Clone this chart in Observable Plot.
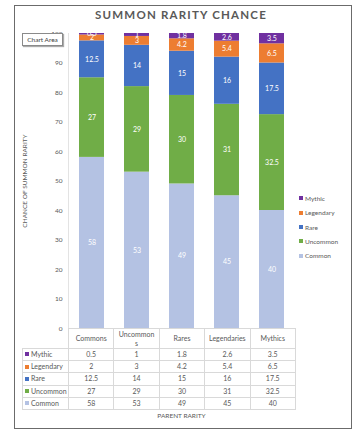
<!DOCTYPE html>
<html><head><meta charset="utf-8">
<script src="https://cdn.jsdelivr.net/npm/d3@7"></script>
<script src="https://cdn.jsdelivr.net/npm/@observablehq/plot@0.6"></script>
<style>
body{margin:0;background:#fff;font-family:Lato,"Open Sans",sans-serif;}
#wrap{position:relative;width:362px;height:436px;overflow:hidden;background:#fff;}
#frame{position:absolute;left:14px;top:5px;width:336px;height:422px;border:1px solid #6b6b6b;box-sizing:content-box;}
#title{position:absolute;left:0;width:362px;top:8px;text-align:center;font-weight:bold;font-size:11.5px;letter-spacing:1.2px;color:#595959;}
#tip{position:absolute;left:22px;top:33px;width:39px;height:11px;border:1px solid #8a8a8a;background:#fff;font-size:6.5px;line-height:11px;text-align:center;color:#404040;box-shadow:1px 1px 1px #aaa;z-index:5;}
#chart{position:absolute;left:0;top:0;}
#tbl{position:absolute;border-collapse:collapse;table-layout:fixed;font-size:7px;color:#595959;}
#tbl td{border:1px solid #d9d9d9;padding:0;text-align:center;height:11.2px;line-height:9px;}
#tbl tr.head td{height:19px;}
#tbl td.lab{text-align:left;padding-left:2px;white-space:nowrap;}
#tbl .hd{margin:0 auto;overflow-wrap:anywhere;}
.sw{display:inline-block;width:4px;height:4px;margin-right:2px;vertical-align:middle;position:relative;top:-1px;}
#legend{position:absolute;left:299px;top:194px;font-size:6.5px;color:#595959;}
#legend div{height:14.3px;line-height:10px;}
#xlab{position:absolute;top:412px;left:0;font-size:6.5px;color:#595959;text-align:center;}
#axline{position:absolute;width:1px;background:#e3e3e3;}
</style></head>
<body><div id="wrap">
<div id="frame"></div>
<div id="title">SUMMON RARITY CHANCE</div>
<div id="tip">Chart Area</div>
<div id="chart"></div>
<div id="axline"></div>
<table id="tbl"></table>
<div id="legend"></div>
<div id="xlab">PARENT RARITY</div>
</div>
<script>
const parents = ["Commons", "Uncommons", "Rares", "Legendaries", "Mythics"];
const rarities = ["Common", "Uncommon", "Rare", "Legendary", "Mythic"];
const common = [58, 53, 49, 45, 40];
const uncommon = [27, 29, 30, 31, 32.5];
const rare = [12.5, 14, 15, 16, 17.5];
const legendary = [2, 3, 4.2, 5.4, 6.5];
const mythic = [0.5, 1, 1.8, 2.6, 3.5];
const colors = ["#b4c2e3", "#70ad47", "#4472c4", "#ed7d31", "#7030a0"];
const yTicks = [0, 10, 20, 30, 40, 50, 60, 70, 80, 90, 100];
const yTitle = "CHANCE OF SUMMON RARITY";
const xTitle = "PARENT RARITY";

const series = [common, uncommon, rare, legendary, mythic];
const rows = [];
rarities.forEach((r, i) => parents.forEach((p, j) => rows.push({parent: p, rarity: r, value: series[i][j]})));

const plot = Plot.plot({
  width: 362, height: 340,
  marginLeft: 68, marginRight: 67, marginTop: 33, marginBottom: 12,
  style: {fontFamily: "Lato, 'Open Sans', sans-serif", fontSize: "7px", color: "#595959", background: "transparent", overflow: "visible"},
  x: {domain: parents, paddingInner: 0.45, paddingOuter: 0.225, axis: null},
  y: {domain: [0, 100]},
  color: {domain: rarities, range: colors},
  marks: [
    Plot.axisY({ticks: yTicks, tickSize: 0, tickPadding: 6, label: yTitle, labelAnchor: "center", labelOffset: 46, labelArrow: "none", fill: "#595959", fontSize: 6.5}),
    Plot.barY(rows, Plot.stackY({x: "parent", y: "value", fill: "rarity", order: rarities})),
    Plot.text(rows, Plot.stackY({x: "parent", y: "value", z: "rarity", text: d => d.value, order: rarities, fill: "white", fontSize: 7})),
    Plot.ruleY([0], {stroke: "#d9d9d9"})
  ]
});
document.getElementById("chart").appendChild(plot);

const xs = plot.scale("x"), ys = plot.scale("y");
const x0 = xs.range[0], x1 = xs.range[1], step = (x1 - x0) / parents.length;
const yTop = ys.apply(100), yBot = ys.apply(0);

const ax = document.getElementById("axline");
ax.style.left = x0 + "px"; ax.style.top = yTop + "px"; ax.style.height = (yBot - yTop) + "px";

// header text wrap width, as in the reference (the long "Uncommons" wraps)
const ctx = document.createElement("canvas").getContext("2d");
ctx.font = "7px Lato";
const wrapW = ctx.measureText("Uncommon").width + 0.6;
const hdW = p => (p === "Uncommons" ? wrapW : Math.max(wrapW, ctx.measureText(p).width + 1));

const tblLeft = 22;
const tbl = document.getElementById("tbl");
tbl.style.left = tblLeft + "px"; tbl.style.top = yBot + "px";
tbl.style.width = (x1 - tblLeft) + "px";
let html = `<colgroup><col style="width:${x0 - tblLeft}px">` + parents.map(() => `<col style="width:${step}px">`).join("") + "</colgroup>";
html += `<tr class="head"><td style="border-top:none;border-left:none"></td>` + parents.map(p => `<td><div class="hd" style="width:${hdW(p)}px">${p}</div></td>`).join("") + "</tr>";
for (let i = rarities.length - 1; i >= 0; i--) {
  html += `<tr><td class="lab"><span class="sw" style="background:${colors[i]}"></span>${rarities[i]}</td>` + series[i].map(v => `<td>${v}</td>`).join("") + "</tr>";
}
tbl.innerHTML = html;

const xl = document.getElementById("xlab");
xl.style.left = x0 + "px"; xl.style.width = (x1 - x0) + "px";

document.getElementById("legend").innerHTML = rarities.map((r, i) => ({r, c: colors[i]})).reverse()
  .map(d => `<div><span class="sw" style="background:${d.c}"></span>${d.r}</div>`).join("");
</script>
</body></html>
